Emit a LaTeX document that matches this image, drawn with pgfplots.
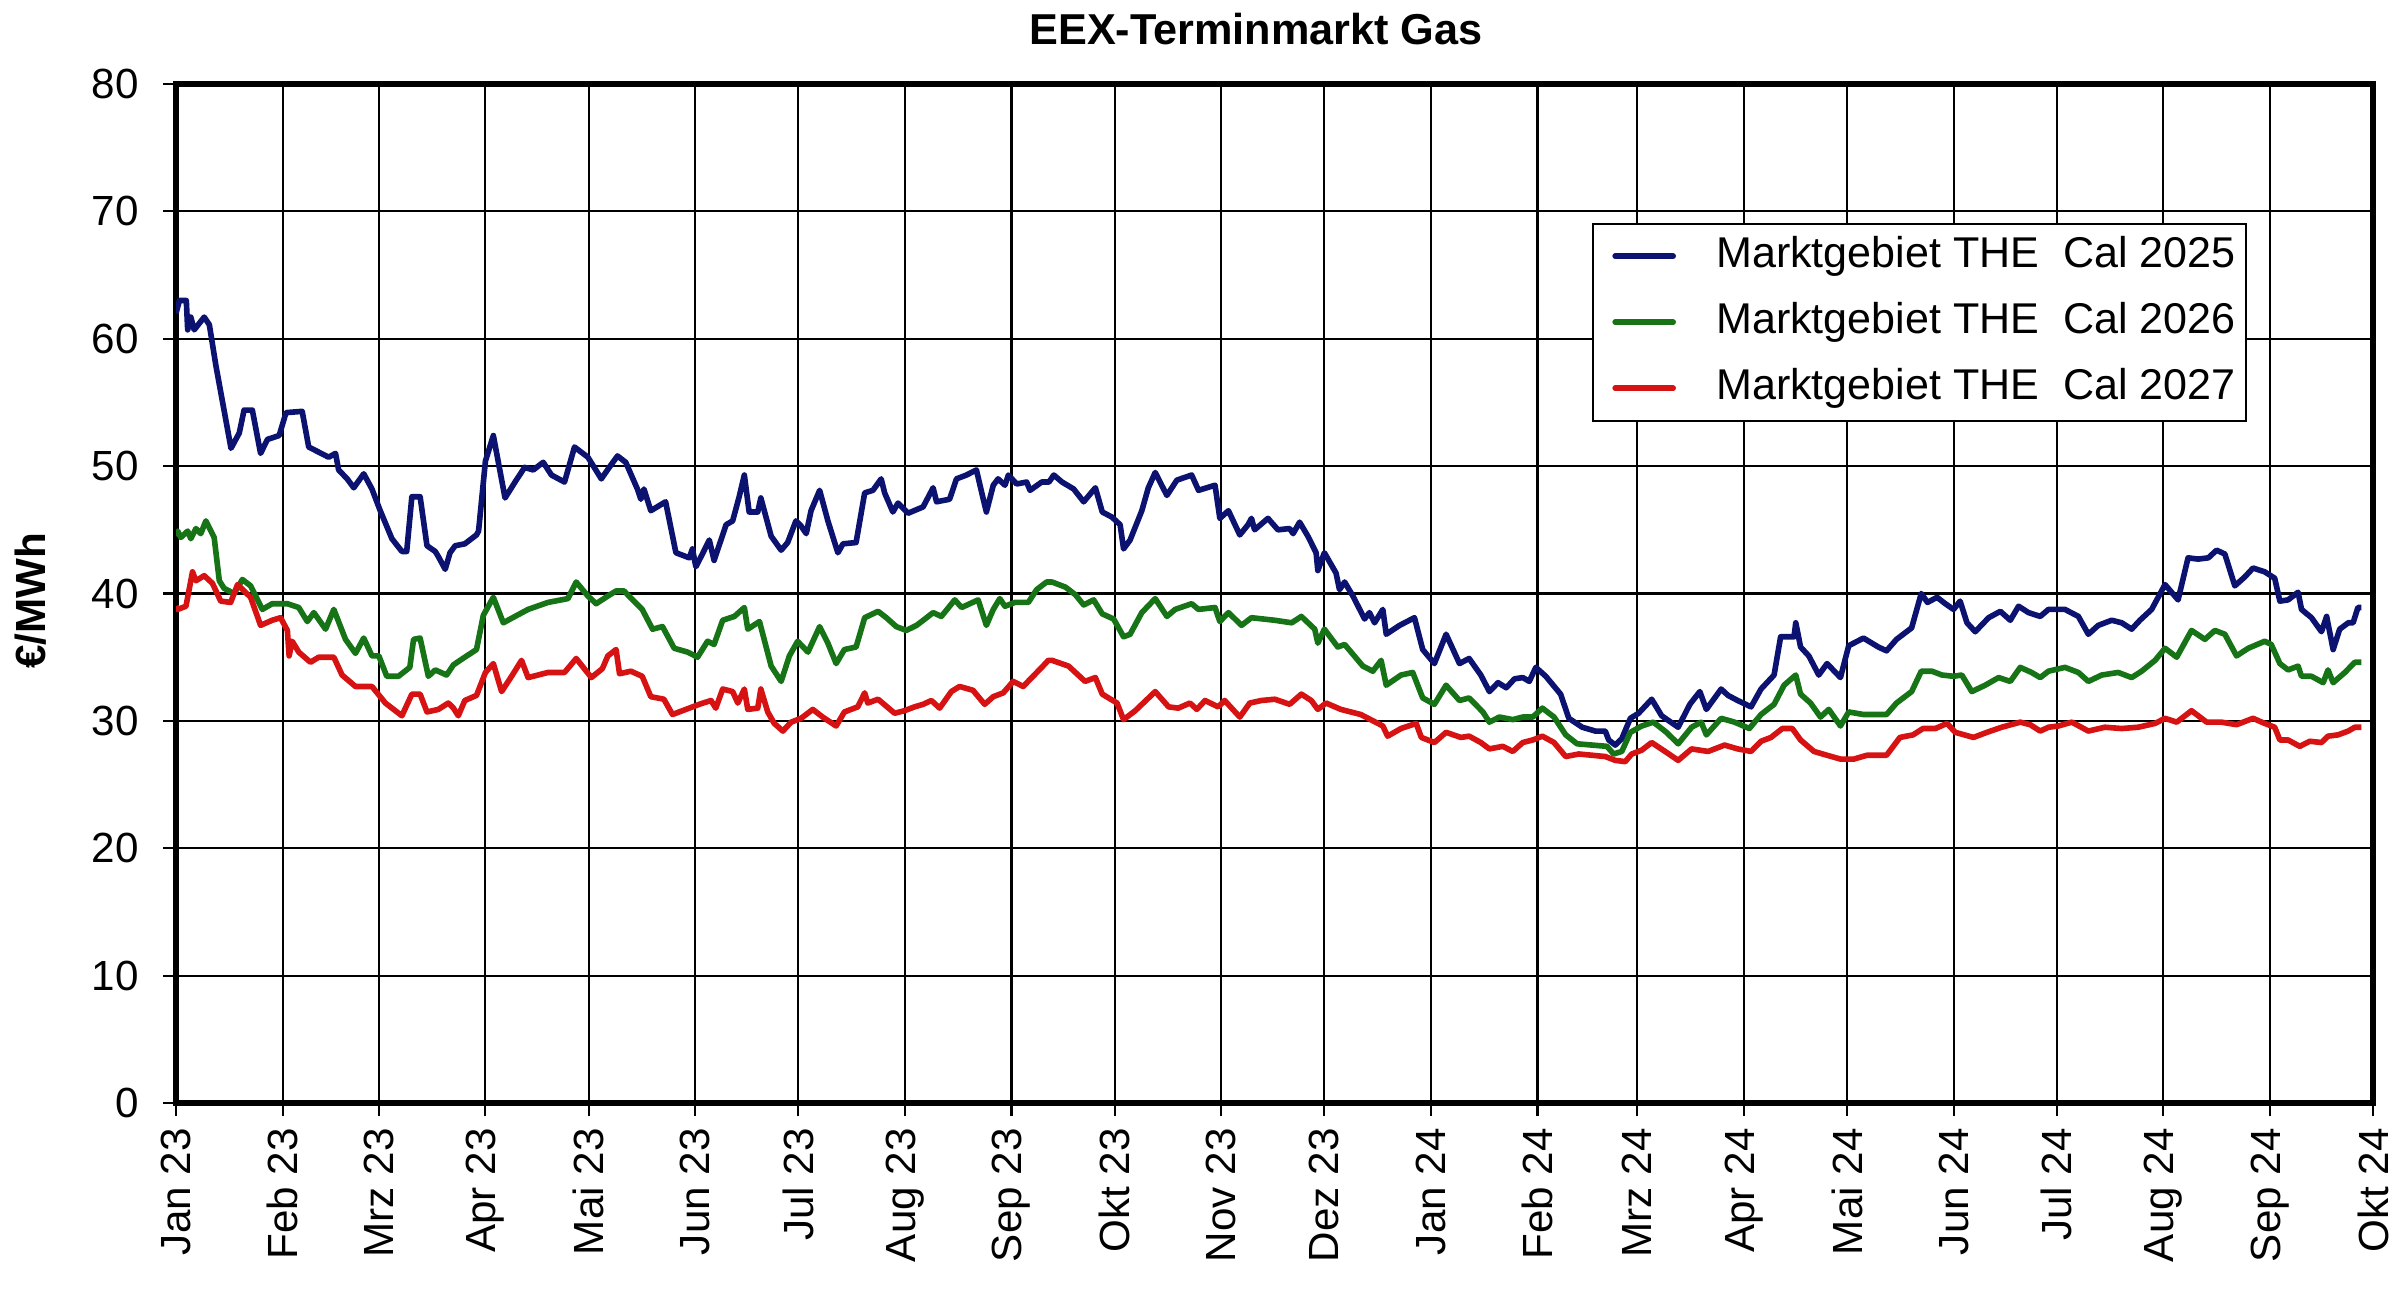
\documentclass[border=0pt]{standalone}
\usepackage{fontspec}
\setmainfont{Liberation Sans}
\usepackage{pgfplots}
\pgfplotsset{compat=1.18}
\definecolor{cblue}{RGB}{12,18,112}
\definecolor{cgreen}{RGB}{22,115,22}
\definecolor{cred}{RGB}{214,18,18}
\begin{document}
\begin{tikzpicture}
\useasboundingbox (0,0) rectangle (24cm,12.88cm);
\node[font=\bfseries\fontsize{12.3}{14}\selectfont, anchor=base] at (12.56cm,12.43cm) {EEX-Terminmarkt Gas};
\begin{axis}[
  at={(1.76cm,1.85cm)}, anchor=south west,
  width=21.97cm, height=10.19cm, scale only axis,
  xmin=0, xmax=639, ymin=0, ymax=80,
  xtick={0,31,59,90,120,151,181,212,243,273,304,334,365,396,425,456,486,517,547,578,609,639},
  xticklabels={Jan 23,Feb 23,Mrz 23,Apr 23,Mai 23,Jun 23,Jul 23,Aug 23,Sep 23,Okt 23,Nov 23,Dez 23,Jan 24,Feb 24,Mrz 24,Apr 24,Mai 24,Jun 24,Jul 24,Aug 24,Sep 24,Okt 24},
  xticklabel style={rotate=90, anchor=east},
  yticklabel style={xshift=-0.12cm},
  ytick={0,10,...,80},
  xtick pos=left, ytick pos=left,
  grid=major, major grid style={black, line width=0.6pt},
  axis line style={black, line width=1.8pt},
  tick align=outside, major tick length=0.13cm,
  tick style={black, line width=0.6pt},
  tick label style={font=\fontsize{12}{14}\selectfont},
  /pgf/number format/assume math mode=true,
  ylabel={€/MWh},
  ylabel style={font=\bfseries\fontsize{12}{14}\selectfont, at={(axis description cs:-0.066,0.4926)}, anchor=center},
  legend image code/.code={\path (0cm,0cm); \draw[#1, line cap=round] (0.14cm,0cm) -- (0.72cm,0cm);},
  legend style={at={(rel axis cs:0.9427,0.864)}, anchor=north east, draw=black, line width=0.6pt, fill=white,
    font=\fontsize{12.25}{15}\selectfont, row sep=4.3pt, column sep=0.35cm, inner xsep=1.5pt, inner ysep=2pt,
    nodes={inner xsep=1.5pt, inner ysep=1pt, text height=9.5pt, text depth=3pt}},
  legend cell align=left,
]
\addplot[cblue, line width=1.6pt, line join=round] table {
0 62.0
1 63.0
3 63.0
3.4 60.7
4.3 61.7
5.3 60.7
8.2 61.7
9.7 61.1
11.6 57.9
16 51.4
18.4 52.6
19.8 54.4
22.2 54.4
24.6 51.0
26.6 52.1
30 52.4
32 54.2
36.7 54.3
38.6 51.5
41.5 51.1
44.4 50.7
46.4 51.0
47.3 49.7
49.8 49.0
51.7 48.3
54.6 49.4
57 48.2
59.4 46.5
62.8 44.3
65.7 43.3
67.1 43.3
68.6 47.6
71 47.6
73 43.75
75.4 43.3
76.3 42.9
78.3 41.9
79.7 43.2
81.2 43.75
84 43.9
87.4 44.6
88 44.9
90 50.4
92.3 52.4
95.7 47.5
98.6 48.75
101.4 49.9
103.9 49.7
106.8 50.3
109.2 49.3
113 48.75
115.9 51.5
119.8 50.7
123.7 49.0
126 49.9
128.4 50.8
130.8 50.3
134.2 48.2
135.2 47.4
136.1 48.2
138.1 46.5
142.4 47.2
145.4 43.2
149.3 42.8
150.2 43.5
151.2 42.1
153.1 43.1
155.1 44.2
156.5 42.6
160 45.4
161.9 45.7
163.8 47.6
165.3 49.3
166.7 46.4
169.2 46.4
170.1 47.5
173.1 44.5
176 43.4
177.9 44.0
180.3 45.7
181.8 45.3
183.3 44.7
184.7 46.5
187.2 48.1
189.6 45.7
192.5 43.2
194 43.9
197.8 44.0
200.3 47.9
202.7 48.1
205.1 49.0
206.1 47.9
208.5 46.4
210 47.1
212.9 46.3
217.3 46.8
220.2 48.3
221.2 47.2
225 47.4
227 49.0
229.9 49.3
232.8 49.7
234.8 47.4
235.7 46.4
237.7 48.5
239.1 49.0
241.1 48.5
242.1 49.3
244.5 48.6
247.4 48.75
248.4 48.1
251.8 48.75
253.9 48.75
255.3 49.3
257.7 48.75
261.1 48.2
264 47.2
267.4 48.3
269.4 46.4
272.2 46.0
274.6 45.4
275.6 43.5
277.5 44.2
280.9 46.5
282.8 48.3
284.8 49.5
288.2 47.7
291.1 48.9
295.4 49.3
297.4 48.1
302.2 48.5
303.6 45.9
306.1 46.5
309.4 44.6
311.8 45.4
312.8 45.9
313.7 45.0
317.6 45.9
320.5 45.0
323.9 45.1
324.9 44.7
326.8 45.6
329.2 44.5
331.6 43.2
332.1 41.8
334 43.2
337.4 41.6
338.4 40.3
339.9 40.9
342.3 39.8
345.7 38.0
347.1 38.5
348.6 37.7
351 38.75
352 36.8
355.9 37.5
360.2 38.1
362.6 35.6
366 34.5
369.4 36.8
373.3 34.5
376.1 34.9
379.5 33.6
382 32.3
384.5 33.0
386.9 32.6
389.3 33.3
391.7 33.4
393.6 33.1
395.5 34.2
398.4 33.5
402.7 32.1
405.1 30.2
409 29.5
412.8 29.2
415.7 29.2
416.7 28.5
418.6 28.1
420.5 28.6
423 30.2
425.4 30.6
429.2 31.7
432.1 30.4
436.9 29.5
440.3 31.3
443.2 32.3
445.1 30.9
449.4 32.5
451.4 32.0
454.2 31.6
458.1 31.1
461 32.5
464.8 33.6
466.7 36.6
470.6 36.6
471.1 37.7
472.5 35.8
474.9 35.1
477.8 33.6
480.2 34.5
484.1 33.4
486.5 35.9
490.8 36.5
495.1 35.8
497.5 35.5
500.4 36.4
504.8 37.3
507.6 40.0
509.4 39.3
512.2 39.7
514.6 39.2
517 38.75
518.9 39.4
520.9 37.7
523.3 37.0
527.2 38.1
530.6 38.6
533.5 37.9
535.9 39.0
538.8 38.5
542.2 38.2
544.6 38.75
549.4 38.75
553.3 38.2
556.2 36.8
559.1 37.5
563 37.9
565.9 37.7
568.8 37.2
571.2 37.9
574.6 38.75
578.5 40.7
580.4 40.1
582.3 39.5
585.2 42.8
588.1 42.7
591.1 42.8
593.5 43.4
595.9 43.1
598.8 40.6
601.7 41.3
604.1 42.0
607.5 41.7
610.4 41.2
611.9 39.4
614.3 39.5
617.2 40.1
618.2 38.75
621.1 38.1
624 37.0
625.5 38.2
627.4 35.6
629.3 37.2
631.8 37.7
633.2 37.7
634.6 38.9
635.6 38.9
};
\addlegendentry{Marktgebiet THE\ \ Cal 2025}
\addplot[cgreen, line width=1.6pt, line join=round] table {
0 44.5
0.5 44.9
1.4 44.4
3.4 44.9
4.3 44.3
5.8 45.1
7.2 44.7
8.7 45.7
11.1 44.4
12.6 41.0
14 40.4
16.9 40.0
19.3 41.1
21.7 40.6
25.1 38.75
28 39.2
32.4 39.2
35.7 38.9
38.2 37.8
40.1 38.5
43.5 37.2
45.9 38.75
49.3 36.4
52.2 35.3
54.6 36.5
57 35.1
59 35.1
61.3 33.5
64.7 33.5
68 34.2
69.1 36.4
71 36.5
73.4 33.5
75.4 34.0
78.7 33.6
80.7 34.4
84 35.0
87.4 35.6
89.4 38.3
92.3 39.7
95.2 37.7
98.6 38.2
102.4 38.75
108.2 39.3
114 39.6
116.4 40.9
119.8 39.8
122.2 39.2
125.6 39.8
128 40.2
130.3 40.2
133.2 39.4
135.6 38.75
138.6 37.2
141.5 37.4
144.9 35.7
148.8 35.4
151.7 35.0
154.6 36.25
156.5 36.0
159 37.9
162.4 38.2
165.3 38.9
166.3 37.2
169.7 37.8
173.1 34.3
176 33.1
178.4 35.1
180.8 36.25
183.8 35.4
187.2 37.4
189.6 36.1
192 34.5
194.4 35.6
197.8 35.8
200.3 38.1
204.2 38.6
206.6 38.1
209.5 37.4
212.4 37.1
215.4 37.5
218.3 38.1
220.2 38.5
222.6 38.2
226.5 39.5
228.5 38.9
233.3 39.5
235.7 37.5
237.7 38.75
239.6 39.6
241.1 39.0
244 39.3
247.9 39.3
250.3 40.3
253.2 40.9
254.8 40.9
258.7 40.5
261.6 39.9
264 39.1
266.9 39.5
269.4 38.4
272.7 38.0
275.6 36.6
277.5 36.8
280.9 38.5
284.8 39.6
288.2 38.2
290.6 38.75
295.4 39.2
297.4 38.75
302.2 38.9
303.6 37.8
306.1 38.5
309.9 37.5
312.8 38.1
319.5 37.9
324.5 37.7
327.3 38.2
331.2 37.2
332.1 36.1
334 37.2
337.9 35.8
339.9 36.0
345.2 34.3
348.1 33.9
350.5 34.75
352 32.8
356.3 33.6
359.7 33.8
362.6 31.8
366 31.3
369.4 32.8
373.3 31.6
376.1 31.8
380.1 30.7
382 29.9
384.9 30.3
388.8 30.1
391.7 30.3
394.6 30.3
397.4 31.0
400.8 30.3
404.2 28.9
407.5 28.2
411.9 28.1
416.2 28.0
418.1 27.4
420.5 27.6
423 29.1
426.3 29.6
429.7 29.9
433.5 29.1
436.9 28.2
440.8 29.5
443.6 29.9
445.1 28.9
449.4 30.2
453.3 29.9
457.6 29.4
461 30.5
464.8 31.3
467.7 32.8
471.1 33.6
472.5 32.1
475.4 31.4
478.3 30.3
480.7 30.9
484.1 29.6
486.5 30.7
490.8 30.5
497.5 30.5
500.4 31.4
504.8 32.3
507.6 33.9
510.7 33.9
513.6 33.6
517 33.5
519.4 33.6
522.3 32.3
526.2 32.8
530.1 33.4
533.5 33.1
536.4 34.2
539.7 33.8
542.2 33.4
544.6 33.9
549.4 34.2
553.3 33.8
556.2 33.1
560.1 33.6
564.9 33.8
568.8 33.4
571.7 33.9
575.6 34.75
578.5 35.7
581.9 35.0
586.2 37.1
590.1 36.4
593 37.1
595.9 36.8
599.3 35.1
602.7 35.7
607.5 36.25
609.4 36.0
611.9 34.5
614.3 34.0
617.2 34.3
618.2 33.5
621.1 33.5
624.5 33.0
625.9 34.0
627.4 33.0
630.8 33.8
633.7 34.6
635.6 34.6
};
\addlegendentry{Marktgebiet THE\ \ Cal 2026}
\addplot[cred, line width=1.6pt, line join=round] table {
0 39.0
0.5 38.75
2.9 39.0
4.8 41.7
5.8 41.0
8.2 41.4
10.6 40.8
13 39.4
15.9 39.3
17.9 40.7
21.7 39.7
24.6 37.5
28 37.9
30.4 38.1
32.4 37.1
32.9 35.1
33.8 36.25
35.7 35.4
39.1 34.6
41.5 35.0
45.9 35.0
48.3 33.6
52.2 32.7
57 32.7
60.9 31.4
65.7 30.4
68.6 32.1
71 32.1
73 30.7
76.3 30.9
79.2 31.4
80.7 31.0
82.1 30.4
84 31.6
87.4 32.0
90 33.8
92.3 34.5
94.7 32.3
97.6 33.5
100.5 34.75
102.4 33.4
108.2 33.8
113 33.8
116.4 34.9
120.8 33.4
124 34.1
125.6 35.1
128 35.6
129 33.7
132.3 33.9
135.6 33.5
138.1 31.9
141.9 31.7
144.4 30.5
148.3 30.9
152.2 31.3
155.6 31.6
157 31.0
159 32.5
161.9 32.3
163.4 31.4
165.3 32.5
166.3 30.9
169.2 31.0
170.1 32.5
172.1 30.7
174 29.8
176.5 29.2
178.9 29.9
181.8 30.2
185.2 30.9
188.1 30.3
192 29.6
194.4 30.7
198.3 31.1
200.3 32.2
201.2 31.4
204.2 31.7
209 30.6
211.9 30.8
214.8 31.1
217.3 31.3
219.7 31.6
222.1 31.0
225.5 32.3
227.9 32.7
231.8 32.4
235.2 31.3
237.7 31.9
240.6 32.2
243.5 33.1
246.4 32.7
248.9 33.4
251.8 34.2
253.7 34.75
254.8 34.75
259.6 34.3
264.4 33.1
267.4 33.4
269.4 32.1
273.7 31.4
275.6 30.1
279 30.8
284.8 32.3
288.7 31.1
291.5 31.0
294.9 31.4
296.9 30.9
299.3 31.6
303.1 31.1
305 31.6
309.4 30.3
312.3 31.4
315.7 31.6
319.6 31.7
323.9 31.3
327.3 32.1
330.2 31.6
332.1 30.9
334.5 31.4
338.8 30.9
344.6 30.5
351 29.6
352.4 28.8
356.3 29.4
360.7 29.8
362.2 28.7
366 28.3
369.4 29.1
373.7 28.7
376.1 28.8
379.5 28.3
382 27.8
385.9 28.0
388.8 27.6
391.7 28.3
394.6 28.5
397.4 28.8
400.8 28.3
404.2 27.2
408 27.4
411.9 27.3
415.7 27.2
418.6 26.9
421.5 26.8
423.4 27.4
426.3 27.7
429.2 28.3
433.1 27.6
436.9 26.9
440.8 27.8
445.6 27.6
450.4 28.1
454.2 27.8
458.1 27.6
461 28.4
463.9 28.7
467.2 29.4
470.1 29.4
472.5 28.5
476.4 27.6
480.2 27.3
484.1 27.0
488 27.0
491.8 27.3
497.5 27.3
501.4 28.7
505.2 28.9
508.1 29.4
511.7 29.4
515.1 29.8
517.5 29.1
522.8 28.7
526.7 29.1
531 29.5
536.4 29.9
539.3 29.7
542.2 29.2
544.6 29.5
547.5 29.6
551.4 29.9
556.2 29.2
561 29.5
565.9 29.4
570.7 29.5
575.6 29.8
578.5 30.2
581.9 29.9
586.2 30.8
590.6 29.9
594.9 29.9
599.3 29.7
604.1 30.2
607.5 29.8
610.4 29.5
611.9 28.5
614.3 28.5
617.7 28.0
620.6 28.4
624 28.3
625.9 28.8
628.8 28.9
631.8 29.2
633.7 29.5
635.6 29.5
};
\addlegendentry{Marktgebiet THE\ \ Cal 2027}
\end{axis}
\end{tikzpicture}
\end{document}
